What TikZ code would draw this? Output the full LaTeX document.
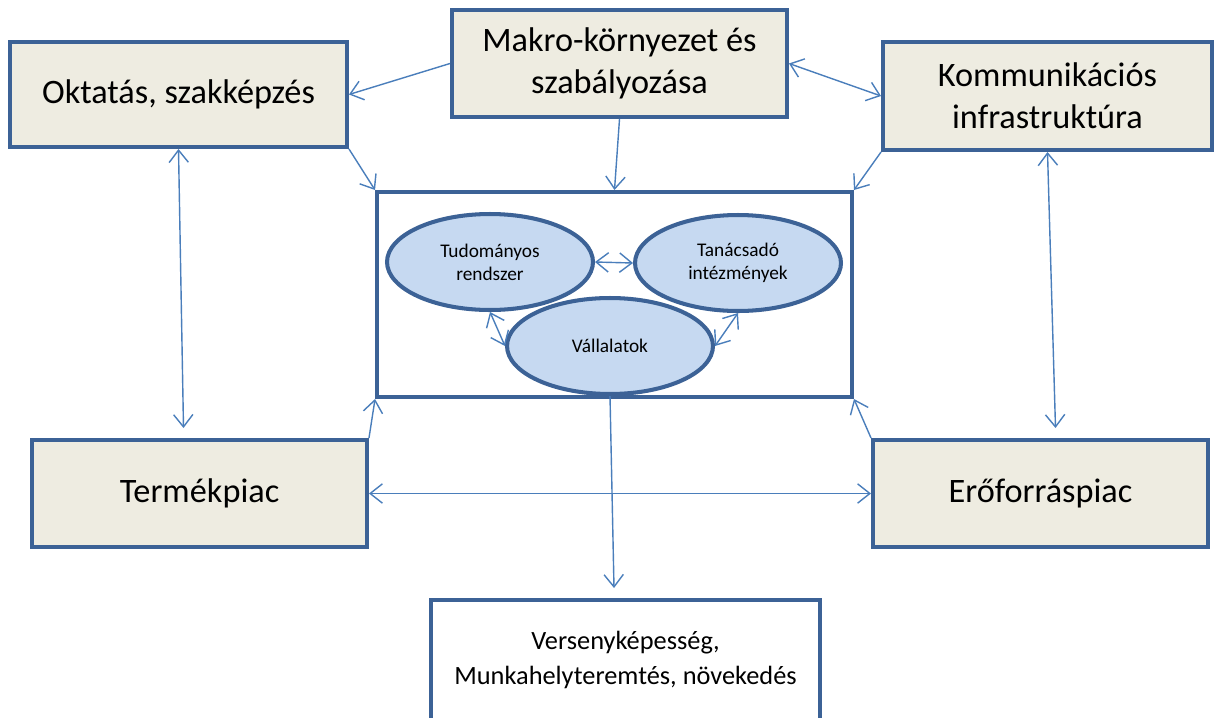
\documentclass[tikz,border=0pt]{standalone}
\usepackage{fontspec}
\setmainfont{Carlito}
\usetikzlibrary{arrows.meta,shapes.geometric}
\definecolor{keret}{HTML}{3C6296}
\definecolor{bezs}{HTML}{EEECE1}
\definecolor{halvany}{HTML}{C6D9F1}
\definecolor{nyil}{HTML}{4A7EBB}
\begin{document}
\begin{tikzpicture}[x=0.02cm,y=-0.02cm,
    doboz/.style={draw=keret,line width=2.3pt,fill=bezs,align=center,
        minimum width=6.7cm,minimum height=2.14cm,
        font=\fontsize{19.5}{24}\selectfont},
    keret/.style={draw=keret,line width=2.3pt,fill=white},
    halmaz/.style={ellipse,draw=keret,line width=2.3pt,fill=halvany,align=center,
        minimum width=4.12cm,minimum height=1.92cm,inner sep=0pt,
        font=\fontsize{11}{13}\selectfont},
    conn/.style={draw=nyil,line width=0.8pt,-{Straight Barb[length=7pt,width=11pt]}},
    dconn/.style={draw=nyil,line width=0.8pt,{Straight Barb[length=7pt,width=11pt]}-{Straight Barb[length=7pt,width=11pt]}}]
    \useasboundingbox (0,0) rectangle (1216,717);
    % felso sor
    \node[doboz,minimum width=6.74cm,minimum height=2.1cm] (okt) at (178.5,94.5) {Oktat\'as, szakk\'epz\'es};
    \node[doboz,minimum height=2.14cm] (makro) at (619.5,63.5) {Makro-k\"ornyezet \'es\\szab\'alyoz\'asa};
    \node[doboz,minimum width=6.58cm,minimum height=2.16cm] (komm) at (1047.5,96) {Kommunik\'aci\'os\\infrastrukt\'ura};
    % also sor
    \node[doboz] (term) at (199.5,493.5) {Term\'ekpiac};
    \node[doboz] (ero) at (1040.5,493.5) {Er\H{o}forr\'aspiac};
    % kozepso keret
    \node[keret,minimum width=9.5cm,minimum height=4.1cm] (kozep) at (614.5,294.5) {};
    \node[keret,minimum width=7.78cm,minimum height=2.4cm,align=center,
        font=\fontsize{15}{20}\selectfont] (eredm) at (625.5,660) {Versenyk\'epess\'eg,\\Munkahelyteremt\'es, n\"oveked\'es};
    \node[halmaz] (tud) at (490,262) {Tudom\'anyos\\rendszer};
    \node[halmaz] (tan) at (738,263) {Tan\'acsad\'o\\int\'ezm\'enyek};
    \node[halmaz] (vall) at (610,346) {V\'allalatok};
    % nyilak
    \draw[conn] (makro.west) -- (okt.east);
    \draw[conn] (makro.south) -- (kozep.north);
    \draw[dconn] (makro.east) -- (komm.west);
    \draw[conn] (okt.south east) -- (kozep.north west);
    \draw[conn] (komm.south west) -- (kozep.north east);
    \draw[dconn] (okt.south) -- ([xshift=-0.32cm,yshift=0.2cm]term.north);
    \draw[dconn] (komm.south) -- ([xshift=0.3cm,yshift=0.2cm]ero.north);
    \draw[conn] (term.north east) -- (kozep.south west);
    \draw[conn] (ero.north west) -- (kozep.south east);
    \draw[dconn] (term.east) -- (ero.west);
    \draw[conn] (vall.south) -- ([xshift=-0.23cm,yshift=0.2cm]eredm.north);
    \draw[dconn] (tud.east) -- (tan.west);
    \draw[dconn] (tud.south) -- (vall.west);
    \draw[dconn] (tan.south) -- (vall.east);
\end{tikzpicture}
\end{document}
